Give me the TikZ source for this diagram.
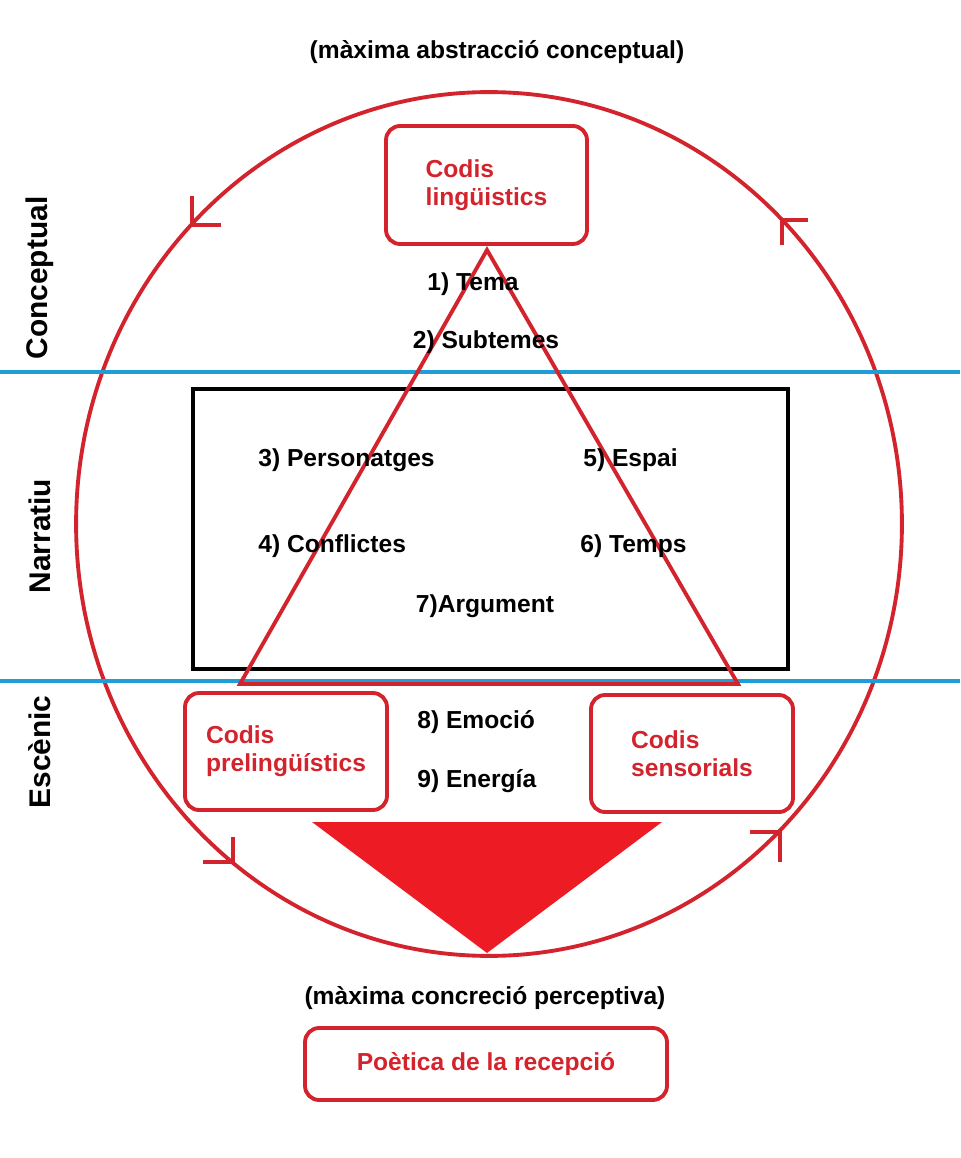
\documentclass[tikz,border=0pt]{standalone}
\usepackage{fontspec}
\setmainfont{Liberation Sans}
\definecolor{codired}{RGB}{211,35,44}
\definecolor{fillred}{RGB}{237,28,36}
\definecolor{bandblue}{RGB}{30,157,214}
\tikzset{
    codibox/.style={draw=codired, line width=2.2pt, rounded corners=8pt,
        text=codired, align=left, font=\bfseries\fontsize{14}{16}\selectfont},
    lbl/.style={inner sep=0pt, font=\bfseries\fontsize{14}{16}\selectfont},
    side/.style={rotate=90, inner sep=0pt, font=\bfseries\fontsize{17}{20}\selectfont},
    redline/.style={codired, line width=2.2pt},
}

\begin{document}
\begin{tikzpicture}[x=0.02cm, y=-0.02cm]
    \useasboundingbox (0,0) rectangle (960,1158);
    % Draw circle with its arrow marks
    \draw [redline] (489,524) ellipse [x radius=8.26cm, y radius=8.64cm];
    \draw [redline] (192,196) -- (192,225) -- (221,225);
    \draw [redline] (233,837) -- (233,862) -- (203,862);
    \draw [redline] (750,832) -- (780,832) -- (780,862);
    \draw [redline] (808,220) -- (782,220) -- (782,245);
    % Draw level bands
    \draw [bandblue, line width=2.6pt] (0,372) -- (960,372);
    \draw [bandblue, line width=2.6pt] (0,681) -- (960,681);
    \draw [line width=2.3pt] (193,389) rectangle (788,669);
    % Draw triangles
    \draw [redline, line join=miter] (487,250) -- (738,684) -- (240,684) -- cycle;
    \fill [fillred] (312,822) -- (662,822) -- (487,953) -- cycle;
    % Codes
    \node (linguistics) [codibox, minimum width=4.02cm, minimum height=2.36cm]
        at (486.5,185) {Codis\\lingüistics};
    \node (prelinguistics) [codibox, minimum width=4.04cm, minimum height=2.34cm]
        at (286,751.5) {Codis\\prelingüístics};
    \node (sensorials) [codibox, minimum width=4.04cm, minimum height=2.34cm]
        at (692,753.5) {Codis\\sensorials};
    \node (recepcio) [codibox, minimum width=7.24cm, minimum height=1.44cm]
        at (486,1064) {Poètica de la recepció};
    % Levels
    \node (abstraccio) [lbl] at (497,52) {(màxima abstracció conceptual)};
    \node (concrecio) [lbl] at (485,998) {(màxima concreció perceptiva)};
    \node (conceptual) [side] at (40,278) {Conceptual};
    \node (narratiu) [side] at (40,536) {Narratiu};
    \node (escenic) [side] at (40,752) {Escènic};
    % Steps
    \node (tema) [lbl] at (473,284) {1) Tema};
    \node (subtemes) [lbl] at (486,342) {2) Subtemes};
    \node (personatges) [lbl, anchor=west] at (258,460) {3) Personatges};
    \node (conflictes) [lbl, anchor=west] at (258,546) {4) Conflictes};
    \node (espai) [lbl, anchor=west] at (583,460) {5) Espai};
    \node (temps) [lbl, anchor=west] at (580,546) {6) Temps};
    \node (argument) [lbl] at (485,606) {7)Argument};
    \node (emocio) [lbl, anchor=west] at (417,722) {8) Emoció};
    \node (energia) [lbl, anchor=west] at (417,781) {9) Energía};
\end{tikzpicture}
\end{document}
